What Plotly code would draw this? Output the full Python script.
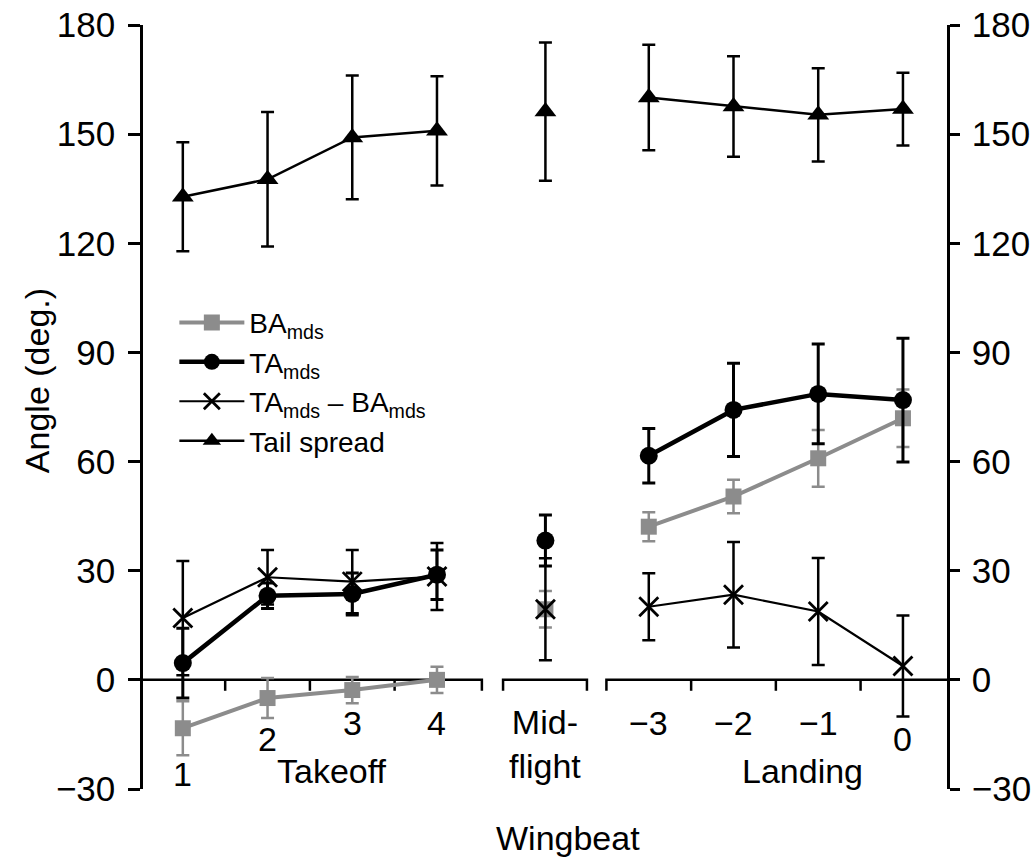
import plotly.graph_objects as go

# ---------------- data ----------------
takeoff_labels = ["1", "2", "3", "4"]
mid_label = "Mid-<br>flight"
landing_labels = ["\u22123", "\u22122", "\u22121", "0"]

# order: takeoff 1..4, mid-flight, landing -3..0
ba_mds = [-13.3, -5.0, -2.8, 0.0, 19.4, 42.1, 50.4, 60.9, 71.9]
ba_err = [7.4, 5.5, 3.6, 3.6, 5.0, 4.0, 4.6, 7.8, 7.9]
ta_mds = [4.6, 23.1, 23.6, 28.9, 38.3, 61.6, 74.2, 78.6, 76.9]
ta_err = [9.6, 3.5, 5.8, 6.8, 7.0, 7.5, 12.8, 13.7, 17.0]
diff_mds = [17.0, 28.2, 27.0, 28.4, 19.4, 20.1, 23.4, 18.8, 3.8]
diff_err = [15.7, 7.5, 8.7, 9.2, 14.0, 9.2, 14.5, 14.7, 13.9]
tail_spread = [132.8, 137.6, 149.1, 150.9, 156.2, 160.1, 157.6, 155.3, 156.9]
tail_err = [15.0, 18.5, 17.0, 15.0, 19.0, 14.5, 13.8, 12.8, 10.0]

y_ticks = [-30, 0, 30, 60, 90, 120, 150, 180]

# ---------------- layout positions ----------------
takeoff_pos = [1, 2, 3, 4]
mid_pos = [5.28]
landing_pos = [6.5, 7.5, 8.5, 9.5]
positions = takeoff_pos + mid_pos + landing_pos
X_RANGE = [0.53, 10.02]


def gapped(v):
    return list(v[:4]) + [None] + list(v[4:5]) + [None] + list(v[5:])


xg = gapped(positions)
GRAY = "#8c8c8c"
FONT = "Liberation Sans, Arial, Helvetica, sans-serif"

fig = go.Figure()


def add_series(name, vals, errs, color, lw, symbol, msize, ew, rank, mline=0):
    fig.add_trace(go.Scatter(
        x=xg, y=gapped(vals), name=name, mode="lines+markers",
        line=dict(color=color, width=lw),
        marker=dict(symbol=symbol, size=msize, color=color,
                    line=dict(color=color, width=mline)),
        error_y=dict(type="data", array=gapped(errs), visible=True,
                     color=color, thickness=ew, width=6.5),
        legendrank=rank, connectgaps=False, hoverinfo="skip",
    ))


add_series("Tail spread", tail_spread, tail_err, "black", 2.5, "triangle-up", 19, 2.5, 4)
add_series("BA<sub>mds</sub>", ba_mds, ba_err, GRAY, 4, "square", 16, 2.5, 1)
add_series("TA<sub>mds</sub> \u2013 BA<sub>mds</sub>", diff_mds, diff_err, "black", 2.2,
           "x-thin", 19, 2.5, 3, mline=2.8)
add_series("TA<sub>mds</sub>", ta_mds, ta_err, "black", 4.5, "circle", 18, 3, 2)

# invisible trace so the right axis is drawn
fig.add_trace(go.Scatter(x=[None], y=[None], yaxis="y2", showlegend=False,
                         hoverinfo="skip"))

# ---------------- broken x axis ----------------
TK = 3.0  # tick length in data units (~11 px)
shapes = []
axis_line = dict(color="black", width=2.5)
seg_l = 4.53
shapes.append(dict(type="path", xref="x", yref="y", line=axis_line, layer="below",
                   path=f"M {X_RANGE[0]},0 L {seg_l},0 L {seg_l},{-TK}"))
for t in [1.5, 2.5, 3.5]:
    shapes.append(dict(type="line", xref="x", yref="y", x0=t, x1=t, y0=0, y1=-TK,
                       line=axis_line, layer="below"))
shapes.append(dict(type="path", xref="x", yref="y", line=axis_line, layer="below",
                   path=f"M 4.78,{-TK} L 4.78,0 L 5.77,0 L 5.77,{-TK}"))
shapes.append(dict(type="path", xref="x", yref="y", line=axis_line, layer="below",
                   path=f"M 6.0,{-TK} L 6.0,0 L {X_RANGE[1]},0"))
for t in [7.0, 8.0, 9.0]:
    shapes.append(dict(type="line", xref="x", yref="y", x0=t, x1=t, y0=0, y1=-TK,
                       line=axis_line, layer="below"))

# ---------------- x labels ----------------
ann = []
lab_font = dict(family=FONT, size=34, color="black")
takeoff_y = [-26.0, -16.2, -11.8, -11.8]
for p, lab, yy in zip(takeoff_pos, takeoff_labels, takeoff_y):
    ann.append(dict(x=p, y=yy, xref="x", yref="y", text=lab, showarrow=False,
                    font=lab_font, yanchor="middle"))
landing_y = [-11.8, -11.8, -11.8, -16.2]
for p, lab, yy in zip(landing_pos, landing_labels, landing_y):
    ann.append(dict(x=p, y=yy, xref="x", yref="y", text=lab, showarrow=False,
                    font=lab_font, yanchor="middle"))
ann.append(dict(x=mid_pos[0], y=-17.5, xref="x", yref="y", text=mid_label,
                showarrow=False, font=lab_font, yanchor="middle"))
ann.append(dict(x=2.76, y=-25.0, xref="x", yref="y", text="Takeoff",
                showarrow=False, font=lab_font, yanchor="middle"))
ann.append(dict(x=8.31, y=-25.0, xref="x", yref="y", text="Landing",
                showarrow=False, font=lab_font, yanchor="middle"))
ann.append(dict(x=5.55, y=-0.064, xref="x", yref="paper", text="Wingbeat",
                showarrow=False, font=lab_font, yanchor="middle"))
ann.append(dict(x=-0.132, y=0.535, xref="paper", yref="paper", text="Angle (deg.)",
                showarrow=False, font=lab_font, textangle=-90,
                xanchor="center", yanchor="middle"))

yax = dict(range=[-30, 180], tickvals=y_ticks, ticks="outside", ticklen=12,
           tickwidth=2.5, tickcolor="black", showline=True, linewidth=2.5,
           linecolor="black", showgrid=False, zeroline=False, automargin=False,
           tickfont=dict(family=FONT, size=35, color="black"))

fig.update_layout(
    width=1036, height=857,
    margin=dict(l=143, r=89, t=25, b=68, autoexpand=False),
    paper_bgcolor="white", plot_bgcolor="white",
    font=dict(family=FONT, color="black"),
    xaxis=dict(range=X_RANGE, visible=False, automargin=False),
    yaxis={**yax, "ticklabelstandoff": 6},
    yaxis2={**yax, "overlaying": "y", "side": "right", "anchor": "x",
            "ticklen": 10, "ticklabelstandoff": 5},
    shapes=shapes,
    annotations=ann,
    showlegend=True,
    legend=dict(x=0.039, y=0.643, xanchor="left", yanchor="top",
                font=dict(family=FONT, size=28, color="black"),
                itemwidth=65, tracegroupgap=0, bgcolor="rgba(0,0,0,0)",
                traceorder="normal"),
)

fig.write_html(
    "out.html",
    config={"displayModeBar": False},
    post_script="document.body.style.margin='0';document.body.style.overflow='hidden';",
)
